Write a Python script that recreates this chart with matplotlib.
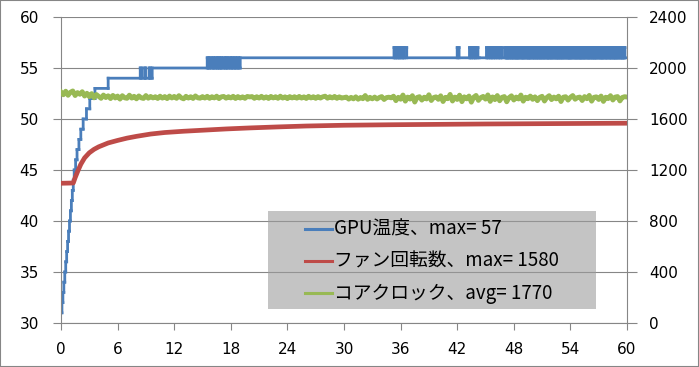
import numpy as np
import matplotlib.pyplot as plt
from matplotlib.lines import Line2D
from matplotlib.patches import Rectangle
from matplotlib.collections import LineCollection

plt.rcParams['font.family'] = ['DejaVu Sans']
plt.rcParams['path.simplify'] = False

# GPU temperature, read as runs of (deg C, seconds)
temp_runs = [
    (31, 6), (32, 6), (33, 6), (34, 6), (35, 6), (36, 6), (37, 6), (38, 6),
    (39, 6), (40, 6), (41, 6), (42, 6), (43, 6), (44, 6),
    (45, 9), (46, 9), (47, 12), (48, 12), (49, 15), (50, 21), (51, 21),
    (52, 33), (53, 84), (54, 204),
    (55, 10), (54, 18), (55, 6), (54, 22), (55, 8), (54, 12),
    (55, 350),
    (56, 8), (55, 6), (56, 12), (55, 10), (56, 7), (55, 9), (56, 11), (55, 5),
    (56, 9), (55, 8), (56, 6), (55, 12), (56, 10), (55, 7), (56, 8), (55, 9),
    (56, 12), (55, 6), (56, 9), (55, 10), (56, 7), (55, 11), (56, 8), (55, 10),
    (56, 978),
    (57, 7), (56, 5), (57, 9), (56, 6), (57, 8), (56, 4), (57, 10), (56, 6),
    (57, 7), (56, 5), (57, 14),
    (56, 321), (57, 12), (56, 66),
    (57, 8), (56, 5), (57, 10), (56, 6), (57, 9), (56, 4), (57, 12), (56, 9),
    (56, 45),
    (57, 9), (56, 6), (57, 11), (56, 5), (57, 8), (56, 7), (57, 10), (56, 4),
    (57, 12), (56, 6), (57, 9), (56, 5), (57, 10),
    (56, 18),
]
# last stretch: seconds at 57, then at 56, alternating
band_hi = [5, 4, 6, 3, 7, 5, 4, 6, 5, 3, 6, 4, 7, 5, 4, 6, 5, 7, 3, 5,
           4, 6, 5, 4, 7, 3, 6, 5, 4, 5, 6, 4, 7, 5, 3, 6, 5, 4, 6, 5,
           7, 4, 5, 3, 6, 5, 4, 7, 5, 6, 4, 5, 3, 6, 5, 7, 4, 5, 6, 4,
           5, 3, 6, 5, 4, 7, 5, 4, 6, 5, 3, 6, 4, 5, 7, 5, 4, 6, 3, 5,
           6, 4, 5, 7, 4, 5, 6, 3, 5, 4, 6, 5, 7, 4, 5, 6, 4]
band_lo = [3, 2, 4, 3, 2, 3, 4, 2, 3, 3, 2, 4, 3, 2, 3, 3, 4, 2, 3, 2,
           3, 4, 2, 3, 3, 2, 3, 4, 2, 3, 3, 2, 4, 3, 2, 3, 3, 2, 4, 3,
           2, 3, 3, 4, 2, 3, 2, 3, 4, 3, 3, 2, 3, 2, 4, 3, 3, 2, 3, 4,
           2, 3, 3, 2, 4, 3, 2, 3, 3, 4, 3, 2, 3, 2, 3, 4, 3, 2, 3, 3,
           4, 2, 3, 3, 2, 3, 4, 3, 2, 3, 3, 2, 4, 3, 2, 3, 3]

fan_min = [0, 1.3, 1.5, 1.8, 2.1, 2.5, 3.0, 3.5, 4.0, 5.0, 6.0, 7.0, 8.0, 9.5,
           11, 13, 15, 17.5, 20, 23, 26, 30, 35, 40, 45, 50, 55, 60]
fan_rpm = [1096, 1098, 1140, 1195, 1245, 1295, 1335, 1362, 1382, 1412, 1432,
           1450, 1464, 1482, 1494, 1504, 1512, 1522, 1530, 1538, 1545, 1551,
           1555, 1558, 1561, 1563, 1565, 1567]

# core clock, one reading every 15 s
clock_mhz = [
    1812, 1790, 1818, 1786, 1810, 1820, 1784, 1807, 1794, 1814, 1780, 1802, 1775, 1799, 1766, 1792, 1777, 1762, 1788, 1768,
    1782, 1760, 1785, 1765, 1780, 1756, 1783, 1766, 1762, 1787, 1764, 1778, 1758, 1781, 1766, 1761, 1784, 1763, 1777, 1765,
    1775, 1761, 1779, 1764, 1776, 1760, 1780, 1765, 1777, 1762, 1783, 1766, 1758, 1778, 1764, 1775, 1761, 1781, 1766, 1763,
    1776, 1764, 1778, 1762, 1775, 1765, 1779, 1760, 1774, 1777, 1763, 1775, 1765, 1778, 1761, 1776, 1764, 1774, 1762, 1777,
    1773, 1776, 1762, 1775, 1764, 1778, 1763, 1774, 1761, 1777, 1765, 1775, 1762, 1779, 1764, 1774, 1760, 1776, 1765, 1775,
    1763, 1777, 1764, 1774, 1761, 1778, 1765, 1775, 1762, 1776, 1764, 1774, 1779, 1763, 1775, 1765, 1777, 1762, 1774, 1764,
    1768, 1772, 1756, 1770, 1758, 1774, 1755, 1769, 1759, 1784, 1754, 1770, 1758, 1772, 1757, 1769, 1776, 1753, 1768, 1771,
    1766, 1779, 1744, 1770, 1755, 1788, 1740, 1772, 1756, 1783, 1733, 1769, 1775, 1748, 1771, 1757, 1790, 1745, 1768, 1774,
    1754, 1782, 1737, 1770, 1759, 1793, 1741, 1772, 1753, 1787, 1736, 1774, 1758, 1780, 1732, 1771, 1785, 1746, 1768, 1777,
    1756, 1789, 1738, 1773, 1752, 1784, 1743, 1770, 1776, 1735, 1768, 1782, 1749, 1772, 1757, 1788, 1740, 1771, 1759, 1780,
    1754, 1774, 1744, 1770, 1778, 1741, 1769, 1783, 1752, 1772, 1758, 1779, 1737, 1771, 1775, 1748, 1770, 1784, 1755, 1768,
    1772, 1745, 1776, 1759, 1785, 1740, 1770, 1774, 1753, 1780, 1738, 1771, 1760, 1783, 1749, 1772, 1776, 1742, 1769, 1775, 1772,
]

labels = ['GPU温度、max= 57', 'ファン回転数、max= 1580', 'コアクロック、avg= 1770']
colors = ['#4a7ebb', '#be4b48', '#98b954']
grid_c = '#868686'

for hi, lo in zip(band_hi, band_lo):
    temp_runs.append((57, hi))
    temp_runs.append((56, lo))

temps = [t for t, s in temp_runs]
secs = [s for t, s in temp_runs]
edges = np.minimum(np.concatenate([[0], np.cumsum(secs)]) / 60.0, 60)
edges[-1] = 60

# step line as separate segments, so the dense flicker renders solid
segs = []
for i, v in enumerate(temps):
    segs.append([(edges[i], v), (edges[i + 1], v)])
    if i + 1 < len(temps):
        segs.append([(edges[i + 1], v), (edges[i + 1], temps[i + 1])])

clock_t = np.arange(len(clock_mhz)) * 0.25

W, H = 699, 367
fig = plt.figure(figsize=(W / 100, H / 100), dpi=100)
ax = fig.add_axes([61 / W, 44 / H, 566 / W, 306 / H])
ax2 = ax.twinx()

ax.add_collection(LineCollection(segs, colors=colors[0], lw=2.0,
                                 capstyle='projecting', snap=False))
ax2.plot(fan_min, fan_rpm, color=colors[1], lw=3.4)
ax2.plot(clock_t, clock_mhz, color=colors[2], lw=3.5)

ax.set_xlim(0, 60)
ax.set_ylim(30, 60)
ax2.set_ylim(0, 2400)
ax.set_xticks(range(0, 61, 6))
ax.set_yticks(range(30, 61, 5))
ax2.set_yticks(range(0, 2401, 400))

ax.grid(axis='y', color=grid_c, lw=0.8)
ax.set_axisbelow(True)
for a in (ax, ax2):
    for side in a.spines:
        a.spines[side].set_color(grid_c)
        a.spines[side].set_linewidth(0.8)
    a.spines['top'].set_visible(False)
ax.spines['right'].set_visible(False)
ax2.spines['left'].set_visible(False)
ax2.spines['bottom'].set_visible(False)

ax.tick_params(axis='x', length=5, color=grid_c, width=0.8, labelsize=11, pad=9)
ax.tick_params(axis='y', length=6, color=grid_c, width=0.8, labelsize=11, pad=10)
ax2.tick_params(axis='y', length=7, color=grid_c, width=0.8, labelsize=11, pad=9)

# legend box, drawn by hand in pixel positions
fig.patches.append(Rectangle((268 / W, (H - 309) / H), 328 / W, 98 / H,
                             transform=fig.transFigure, facecolor='#9d9d9d',
                             alpha=0.6, edgecolor='none', zorder=5))
for i, (lab, c) in enumerate(zip(labels, colors)):
    yc = (H - (229 + i * 32.2)) / H
    fig.lines.append(Line2D([305 / W, 332 / W], [yc, yc], transform=fig.transFigure,
                            color=c, lw=2.2, zorder=6))
    fig.text(334 / W, yc, lab, va='center', ha='left', fontsize=13.5,
             family=['Noto Sans CJK JP', 'DejaVu Sans'], zorder=6)

fig.patches.append(Rectangle((0, 0), 1, 1, transform=fig.transFigure,
                             facecolor='none', edgecolor=grid_c, lw=1.5, zorder=10))

fig.savefig('out.png', dpi=100)
